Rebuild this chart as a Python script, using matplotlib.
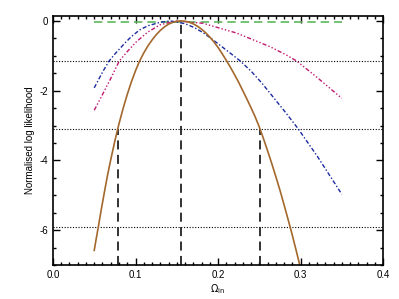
import numpy as np
import matplotlib
matplotlib.use("Agg")
import matplotlib.pyplot as plt
from matplotlib.ticker import MultipleLocator

plt.rcParams['font.family'] = ['Liberation Sans', 'DejaVu Sans']
plt.rcParams['axes.unicode_minus'] = False

# brown solid curve
brown_x = [0.050, 0.052, 0.055, 0.058, 0.062, 0.066, 0.070, 0.075, 0.080, 0.085, 0.090, 0.095,
           0.100, 0.105, 0.110, 0.115, 0.120, 0.125, 0.130, 0.135, 0.140, 0.145, 0.150, 0.155,
           0.160, 0.165, 0.170, 0.175, 0.180, 0.185, 0.190, 0.195, 0.200, 0.205, 0.210, 0.215,
           0.220, 0.225, 0.230, 0.235, 0.240, 0.245, 0.250, 0.255, 0.260, 0.265, 0.270, 0.275,
           0.280, 0.285, 0.290, 0.295, 0.300]
brown_y = [-6.58, -6.30, -5.90, -5.48, -4.95, -4.44, -3.98, -3.44, -2.95, -2.51, -2.11, -1.75,
           -1.43, -1.15, -0.92, -0.72, -0.55, -0.40, -0.275, -0.174, -0.094, -0.043, -0.011, 0.0,
           -0.01, -0.038, -0.085, -0.152, -0.237, -0.34, -0.463, -0.603, -0.761, -0.94, -1.13, -1.33,
           -1.54, -1.76, -2.00, -2.24, -2.49, -2.75, -3.04, -3.37, -3.72, -4.08, -4.46, -4.85,
           -5.27, -5.70, -6.14, -6.61, -7.09]

# blue dash-dot curve
blue_x = [0.050, 0.060, 0.068, 0.075, 0.087, 0.095, 0.105, 0.115, 0.130, 0.142, 0.160, 0.172,
          0.182, 0.192, 0.202, 0.214, 0.227, 0.240, 0.253, 0.267, 0.282, 0.297, 0.320, 0.350]
blue_y = [-1.92, -1.47, -1.15, -0.95, -0.64, -0.45, -0.26, -0.14, -0.04, 0.0, -0.08, -0.20,
          -0.34, -0.51, -0.69, -0.91, -1.15, -1.44, -1.78, -2.19, -2.63, -3.09, -3.87, -4.97]

# magenta dash-dot-dot curve
mag_x = [0.050, 0.057, 0.070, 0.0804, 0.090, 0.1014, 0.115, 0.130, 0.150, 0.182, 0.2226,
         0.263, 0.283, 0.2953, 0.320, 0.350]
mag_y = [-2.56, -2.25, -1.65, -1.15, -0.88, -0.59, -0.32, -0.11, 0.0, -0.07, -0.35,
         -0.74, -0.98, -1.15, -1.62, -2.22]

# green dashed (flat)
green_x = [0.050, 0.350]
green_y = [-0.03, -0.03]

# confidence levels and marked values
levels = [-1.15, -3.09, -5.9]
marks_x = [0.079, 0.155, 0.251]
marks_top = [-3.09, 0.0, -3.09]

fig = plt.figure(figsize=(3.99, 2.99), dpi=100)
ax = fig.add_axes([0.1328, 0.1137, 0.8272, 0.8328])

for lev in levels:
    ax.axhline(lev, color='black', lw=0.8, ls=(0, (1, 1.5)))

for mx, mt in zip(marks_x, marks_top):
    ax.plot([mx, mx], [-7, mt], color='#222222', lw=1.3, ls=(0, (5, 3)))

ax.plot(green_x, green_y, color='#5cb85c', lw=1.2, ls=(0, (5, 3)))
ax.plot(mag_x, mag_y, color='#c01870', lw=1.0, ls=(0, (3, 1.5, 1, 1.5, 1, 1.5, 1, 1.5)))
ax.plot(blue_x, blue_y, color='#1c2aa0', lw=1.0, ls=(0, (3, 1.5, 1, 1.5)))
ax.plot(brown_x, brown_y, color='#a3682c', lw=1.2)

ax.set_xlim(0.0, 0.4)
ax.set_ylim(-7.0, 0.14)
ax.xaxis.set_minor_locator(MultipleLocator(0.01))
ax.yaxis.set_minor_locator(MultipleLocator(0.5))
ax.set_xticks([0.0, 0.1, 0.2, 0.3, 0.4])
ax.set_xticklabels(['0.0', '0.1', '0.2', '0.3', '0.4'])
ax.set_yticks([0, -2, -4, -6])
ax.set_yticklabels(['0', '-2', '-4', '-6'])
ax.tick_params(which='both', direction='in', top=True, right=True, labelsize=7, width=1)
ax.tick_params(which='major', length=5)
ax.tick_params(which='minor', length=2.5)
for s in ax.spines.values():
    s.set_linewidth(1.2)

ax.set_xlabel(r'$\Omega_{\rm in}$', fontsize=7, labelpad=2)
ax.set_ylabel('Normalised log likelihood', fontsize=7, labelpad=3)

fig.savefig('out.png', dpi=100)
